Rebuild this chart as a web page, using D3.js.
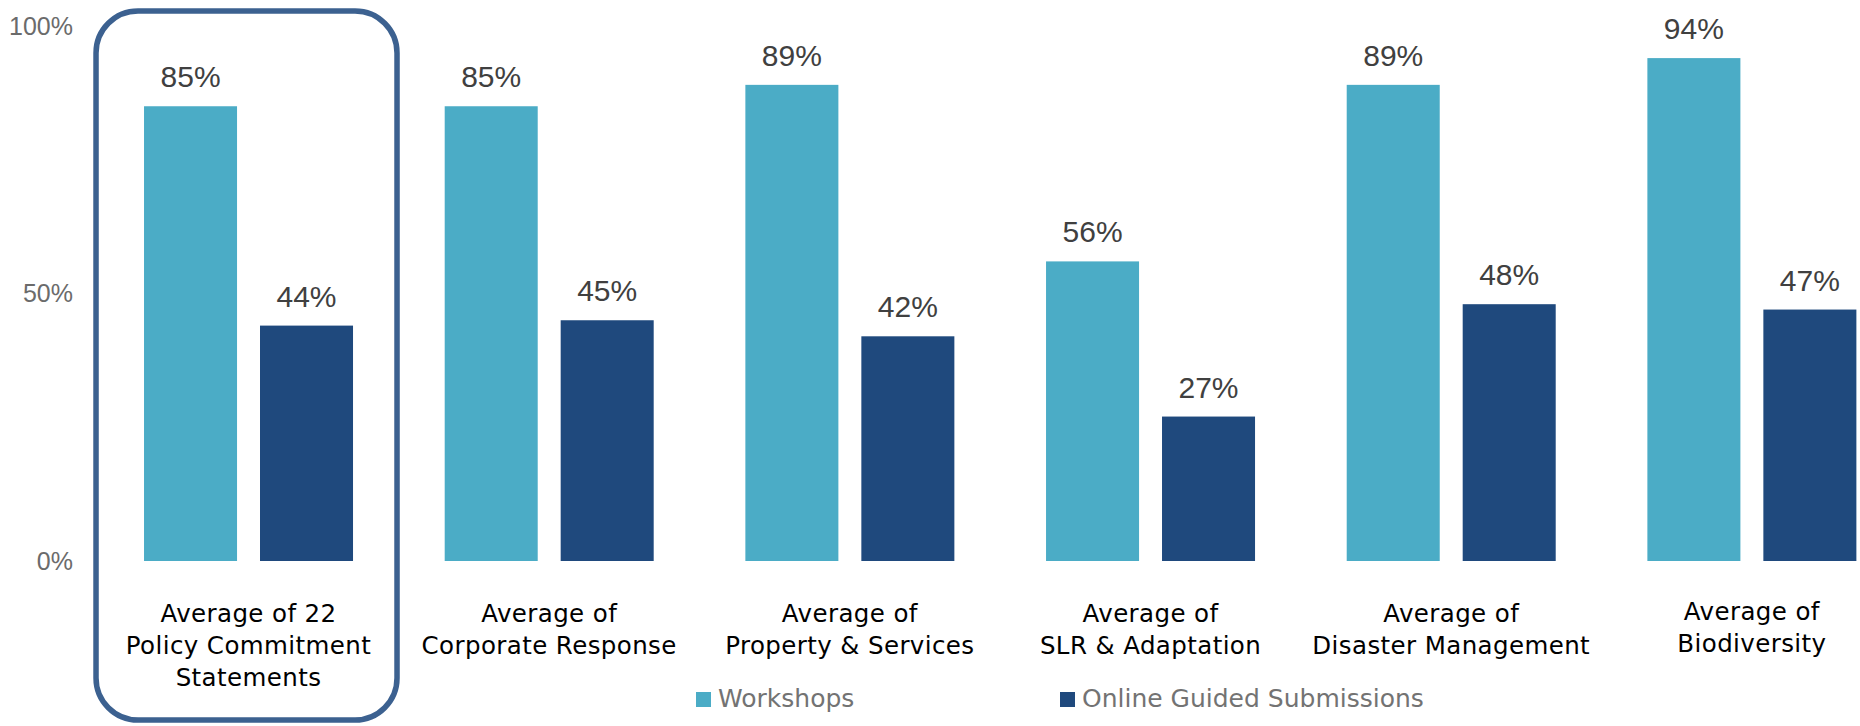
<!DOCTYPE html>
<html>
<head>
<meta charset="utf-8">
<script src="https://cdn.jsdelivr.net/npm/d3@7"></script>
<style>
  body { margin: 0; background: #fff; }
  svg { display: block; }
</style>
</head>
<body>
<div id="chart"></div>
<script>
// Data
var categories = [
  ['Average of 22', 'Policy Commitment', 'Statements'],
  ['Average of', 'Corporate Response'],
  ['Average of', 'Property & Services'],
  ['Average of', 'SLR & Adaptation'],
  ['Average of', 'Disaster Management'],
  ['Average of', 'Biodiversity']
];
var seriesNames = ['Workshops', 'Online Guided Submissions'];
var workshops = [85, 85, 89, 56, 89, 94];
var online = [44, 45, 42, 27, 48, 47];
var yTicks = [0, 50, 100];

var width = 1860,
    height = 726;

var colors = { 'Workshops': '#4BACC6', 'Online Guided Submissions': '#1F497D' };

var svg = d3.select('#chart').append('svg')
    .attr('width', width)
    .attr('height', height);

// Scales
var keys = categories.map(function(c, i) { return i; });

var x0 = d3.scaleBand()
    .domain(keys)
    .range([98.2, 1902.2])
    .paddingInner(0.3049)
    .paddingOuter(0.1524);

var x1 = d3.scaleBand()
    .domain(seriesNames)
    .range([0, x0.bandwidth()])
    .paddingInner(0.198);

var y = d3.scaleLinear()
    .domain([0, 100])
    .range([561, 26]);

// Highlight box round first group
svg.append('rect')
    .attr('x', x0(0) - 48)
    .attr('y', 11)
    .attr('width', x0.bandwidth() + 92)
    .attr('height', 709)
    .attr('rx', 42)
    .attr('ry', 42)
    .attr('fill', 'none')
    .attr('stroke', '#3c6190')
    .attr('stroke-width', 5.5);

// Y axis (labels only)
var yAxis = d3.axisLeft(y)
    .tickValues(yTicks)
    .tickFormat(function(d) { return d + '%'; })
    .tickSize(0)
    .tickPadding(0);

var gy = svg.append('g')
    .attr('class', 'axis y')
    .attr('transform', 'translate(73,0)')
    .call(yAxis);
gy.select('.domain').remove();
gy.selectAll('text')
    .attr('font-family', '"Liberation Sans", Arial, sans-serif')
    .attr('font-size', 25)
    .attr('fill', '#6b6b6b');

// Bars
var rows = keys.map(function(i) {
  return [
    { key: 'Workshops', value: workshops[i] },
    { key: 'Online Guided Submissions', value: online[i] }
  ];
});

var groups = svg.selectAll('g.group')
    .data(rows)
  .enter().append('g')
    .attr('class', 'group')
    .attr('transform', function(d, i) { return 'translate(' + x0(i) + ',0)'; });

groups.selectAll('rect')
    .data(function(d) { return d; })
  .enter().append('rect')
    .attr('x', function(d) { return x1(d.key); })
    .attr('y', function(d) { return y(d.value); })
    .attr('width', x1.bandwidth())
    .attr('height', function(d) { return y(0) - y(d.value); })
    .attr('fill', function(d) { return colors[d.key]; });

groups.selectAll('text.value')
    .data(function(d) { return d; })
  .enter().append('text')
    .attr('class', 'value')
    .attr('x', function(d) { return x1(d.key) + x1.bandwidth() / 2; })
    .attr('y', function(d) { return y(d.value) - 19; })
    .attr('text-anchor', 'middle')
    .attr('font-family', '"Liberation Sans", Arial, sans-serif')
    .attr('font-size', 30)
    .attr('fill', '#404040')
    .text(function(d) { return d.value + '%'; });

// Category labels
svg.selectAll('text.cat')
    .data(categories)
  .enter().append('text')
    .attr('class', 'cat')
    .attr('text-anchor', 'middle')
    .attr('font-family', '"DejaVu Sans", sans-serif')
    .attr('font-size', 24.5)
    .attr('letter-spacing', 0.4)
    .attr('fill', '#000')
    .each(function(lines, i) {
      var t = d3.select(this);
      var dy = i === categories.length - 1 ? -2 : 0;
      lines.forEach(function(line, j) {
        t.append('tspan')
          .attr('x', x0(i) + x0.bandwidth() / 2)
          .attr('y', 622 + dy + j * 32)
          .text(line);
      });
    });

// Legend
var legendX = [696, 1060];
var legend = svg.selectAll('g.legend')
    .data(seriesNames)
  .enter().append('g')
    .attr('class', 'legend')
    .attr('transform', function(d, i) { return 'translate(' + legendX[i] + ',692)'; });

legend.append('rect')
    .attr('width', 15)
    .attr('height', 15)
    .attr('fill', function(d) { return colors[d]; });

legend.append('text')
    .attr('x', 22)
    .attr('y', 15)
    .attr('font-family', '"DejaVu Sans", sans-serif')
    .attr('font-size', 25)
    .attr('fill', '#737373')
    .text(function(d) { return d; });
</script>
</body>
</html>
